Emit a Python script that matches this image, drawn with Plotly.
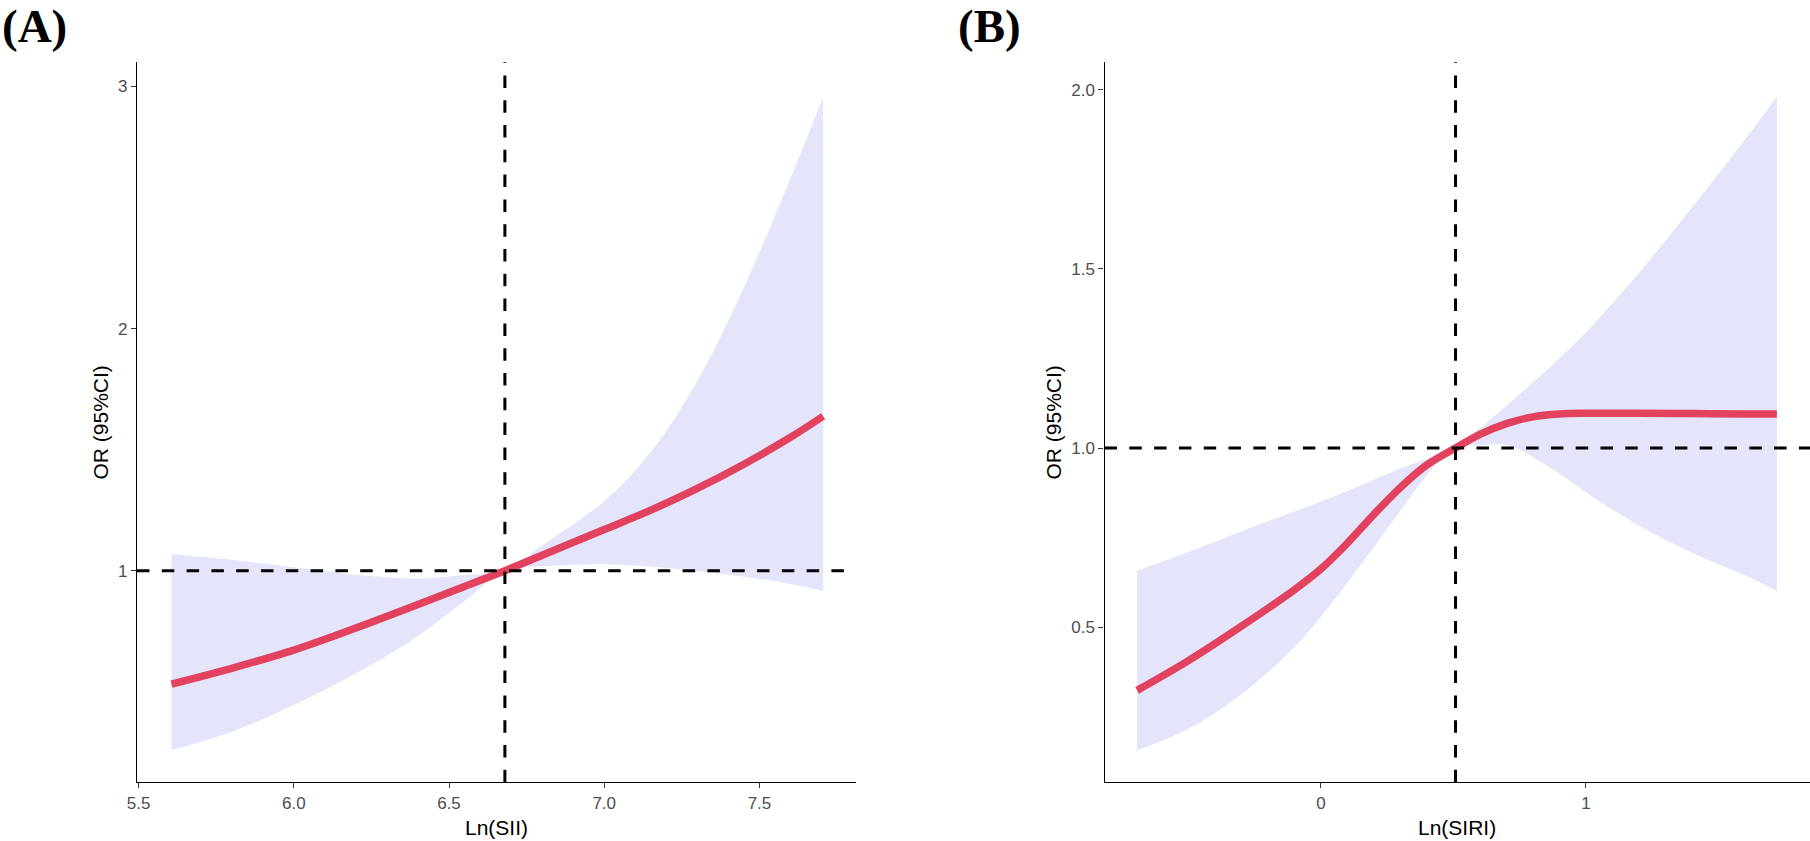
import plotly.graph_objects as go

# Panel A: Ln(SII)
sii_x = [5.606, 5.8, 6.0, 6.2, 6.4, 6.55, 6.68, 6.8, 7.0, 7.15, 7.3, 7.45, 7.6, 7.705]
sii_or = [0.532, 0.597, 0.672, 0.763, 0.860, 0.935, 1.0, 1.064, 1.170, 1.250, 1.340, 1.440, 1.551, 1.638]
sii_upper = [1.068, 1.045, 1.014, 0.983, 0.968, 0.982, 1.0, 1.105, 1.287, 1.490, 1.784, 2.170, 2.620, 2.955]
sii_lower = [0.259, 0.335, 0.445, 0.575, 0.730, 0.876, 1.0, 1.018, 1.027, 1.017, 0.998, 0.975, 0.945, 0.916]
sii_ref = 6.68

# Panel B: Ln(SIRI)
siri_x = [-0.694, -0.5, -0.3, -0.1, 0.0, 0.1, 0.2, 0.3, 0.4, 0.508,
          0.6, 0.7, 0.8, 0.9, 1.0, 1.2, 1.4, 1.6, 1.721]
siri_or = [0.324, 0.407, 0.503, 0.605, 0.663, 0.735, 0.815, 0.890, 0.953, 1.0,
           1.038, 1.068, 1.087, 1.095, 1.097, 1.097, 1.096, 1.095, 1.095]
siri_upper = [0.658, 0.710, 0.768, 0.823, 0.851, 0.880, 0.912, 0.943, 0.970, 1.0,
              1.055, 1.118, 1.183, 1.250, 1.322, 1.488, 1.670, 1.860, 1.980]
siri_lower = [0.157, 0.217, 0.313, 0.445, 0.530, 0.625, 0.725, 0.825, 0.925, 1.0,
              1.008, 1.009, 0.975, 0.928, 0.877, 0.784, 0.708, 0.645, 0.601]
siri_ref = 0.508

W, H = 1810, 841
BAND = "#E4E4FA"
RED = "#E3425E"
TICKFONT = dict(family="Liberation Sans, Arial", size=17, color="#4D4D4D")
TITLEFONT = dict(family="Liberation Sans, Arial", size=21, color="black")


def px_x(p):
    return p / W


def px_y(p):
    return 1 - p / H


fig = go.Figure()

panels = [
    (sii_x, sii_or, sii_lower, sii_upper, "x", "y"),
    (siri_x, siri_or, siri_lower, siri_upper, "x2", "y2"),
]
for xs, mid, lo, hi, xa, ya in panels:
    # confidence band
    fig.add_trace(go.Scatter(x=xs, y=lo, mode="lines",
                             line=dict(width=0, color=BAND, shape="spline", smoothing=1.0),
                             xaxis=xa, yaxis=ya, showlegend=False, hoverinfo="skip"))
    fig.add_trace(go.Scatter(x=xs, y=hi, mode="lines",
                             line=dict(width=0, color=BAND, shape="spline", smoothing=1.0),
                             fill="tonexty", fillcolor=BAND,
                             xaxis=xa, yaxis=ya, showlegend=False, hoverinfo="skip"))
    # OR curve
    fig.add_trace(go.Scatter(x=xs, y=mid, mode="lines", line=dict(width=7.5, color=RED, shape="spline"),
                             xaxis=xa, yaxis=ya, showlegend=False))

# reference lines
dash = dict(color="black", width=3, dash="12.5px,12.3px")
for xa, ya, xref in [("x", "y", sii_ref), ("x2", "y2", siri_ref)]:
    fig.add_shape(type="line", xref=xa, yref=ya + " domain", x0=xref, x1=xref, y0=0, y1=1, line=dash)
    fig.add_shape(type="line", xref=xa + " domain", yref=ya, x0=0, x1=1, y0=1, y1=1, line=dash)

axis_common = dict(
    showline=True, linecolor="black", linewidth=1.2, showgrid=False, zeroline=False,
    ticks="outside", ticklen=5, tickwidth=1.2, tickcolor="#333333",
    tickfont=TICKFONT, automargin=False,
)

y_dom = [px_y(782.3), px_y(62.3)]
fig.update_layout(
    width=W, height=H,
    margin=dict(l=0, r=0, t=0, b=0),
    paper_bgcolor="white", plot_bgcolor="white",
    xaxis=dict(domain=[px_x(137), px_x(856)], range=[5.495, 7.811],
               tickvals=[5.5, 6.0, 6.5, 7.0, 7.5], tickformat=".1f", anchor="y", **axis_common),
    yaxis=dict(domain=y_dom, range=[0.126, 3.10], tickvals=[1, 2, 3], anchor="x", **axis_common),
    xaxis2=dict(domain=[px_x(1104.5), 1.0], range=[-0.817, 1.846],
                tickvals=[0, 1], anchor="y2", **axis_common),
    yaxis2=dict(domain=y_dom, range=[0.0676, 2.076], tickvals=[0.5, 1.0, 1.5, 2.0],
                tickformat=".1f", anchor="x2", **axis_common),
)

annotations = [
    dict(text="Ln(SII)", x=px_x(496.5), y=px_y(827), font=TITLEFONT),
    dict(text="Ln(SIRI)", x=px_x(1457), y=px_y(827), font=TITLEFONT),
    dict(text="OR (95%CI)", x=px_x(100), y=px_y(422.5), textangle=-90, font=TITLEFONT),
    dict(text="OR (95%CI)", x=px_x(1053), y=px_y(422.5), textangle=-90, font=TITLEFONT),
    dict(text="<b>(A)</b>", x=px_x(34), y=px_y(26),
         font=dict(family="Liberation Serif, Times New Roman", size=47, color="black")),
    dict(text="<b>(B)</b>", x=px_x(989.5), y=px_y(26),
         font=dict(family="Liberation Serif, Times New Roman", size=47, color="black")),
]
for a in annotations:
    fig.add_annotation(xref="paper", yref="paper", xanchor="center", yanchor="middle",
                       showarrow=False, **a)

# drop the default page margin so the figure fills the window exactly
fig.write_html("out.html", config={"displayModeBar": False},
               post_script="document.body.style.margin='0';")
